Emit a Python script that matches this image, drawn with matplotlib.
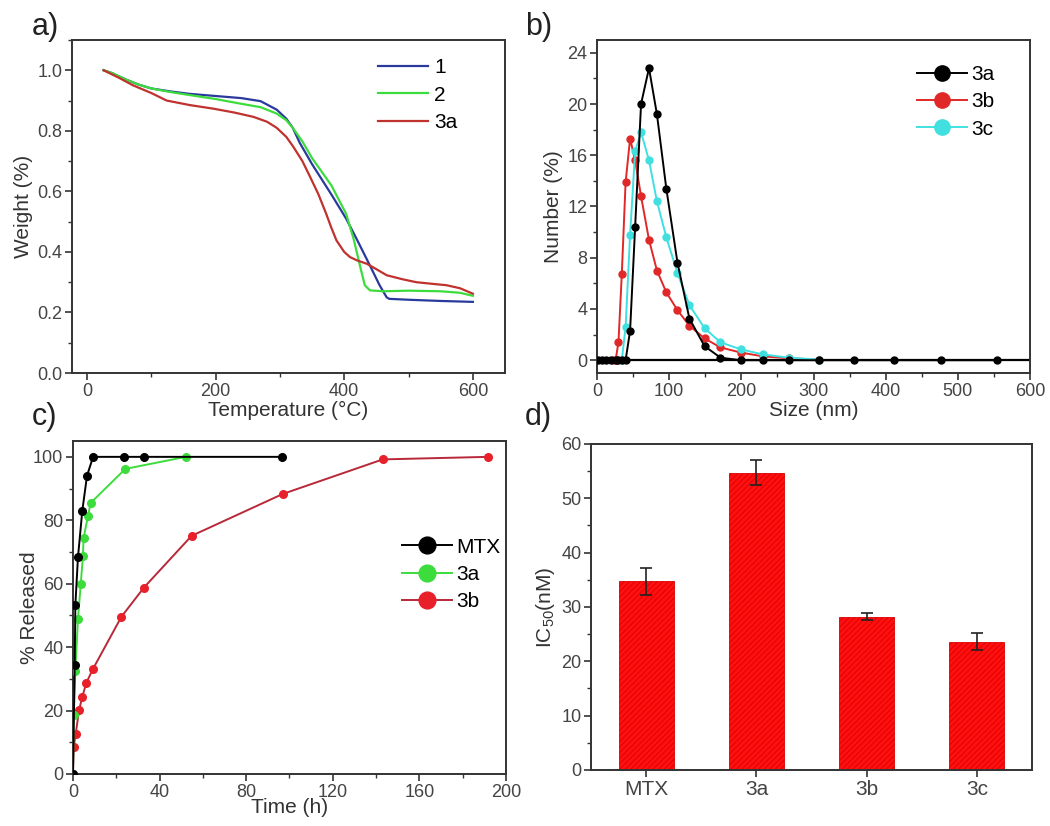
import numpy as np
import matplotlib
matplotlib.use("Agg")
import matplotlib.pyplot as plt
from matplotlib.ticker import MultipleLocator

plt.rcParams['font.family'] = ['Liberation Sans', 'DejaVu Sans']
plt.rcParams['mathtext.default'] = 'regular'
plt.rcParams['hatch.linewidth'] = 0.6

# ---- a) TGA ----
t1 = [26, 40, 60, 80, 100, 130, 160, 200, 240, 270, 295, 310, 320, 331, 350, 365,
      380, 403, 420, 440, 455, 466, 470, 500, 550, 600]
w1 = [1.0, 0.99, 0.97, 0.953, 0.94, 0.93, 0.922, 0.915, 0.908, 0.898, 0.87, 0.84,
      0.81, 0.76, 0.69, 0.64, 0.59, 0.51, 0.44, 0.355, 0.29, 0.25, 0.245, 0.242,
      0.238, 0.235]
t2 = [26, 40, 60, 80, 100, 130, 160, 200, 238, 270, 295, 310, 320, 335, 350, 365,
      380, 403, 415, 425, 432, 440, 460, 500, 550, 580, 600]
w2 = [1.0, 0.99, 0.97, 0.953, 0.94, 0.928, 0.918, 0.905, 0.89, 0.878, 0.857, 0.835,
      0.81, 0.765, 0.71, 0.665, 0.62, 0.526, 0.44, 0.35, 0.29, 0.273, 0.27, 0.272,
      0.27, 0.265, 0.255]
t3 = [26, 50, 72, 100, 124, 160, 197, 230, 259, 280, 295, 310, 321, 335, 347, 360,
      372, 380, 388, 400, 409, 420, 435, 450, 466, 490, 512, 535, 559, 580, 600]
w3 = [1.0, 0.975, 0.95, 0.925, 0.90, 0.885, 0.873, 0.86, 0.846, 0.83, 0.81, 0.78,
      0.747, 0.70, 0.648, 0.59, 0.526, 0.48, 0.438, 0.40, 0.383, 0.372, 0.361,
      0.343, 0.323, 0.31, 0.30, 0.295, 0.29, 0.28, 0.262]

# ---- b) size distribution ----
size_a = [1, 7, 13, 19, 25.7, 29.7, 34.3, 39.6, 45.8, 52.8, 61, 72, 83, 96, 111.5,
          128, 149, 171, 199, 230, 266, 307, 356, 412, 477, 554]
num_a = [0, 0, 0, 0, 0, 0, 0, 0, 2.3, 10.4, 20.0, 22.8, 19.2, 13.4, 7.6, 3.25,
         1.1, 0.2, 0, 0, 0, 0, 0, 0, 0, 0]
size_b = [22.3, 25.7, 29.7, 34.3, 39.6, 45.8, 52.8, 61, 72, 83, 96, 111.5, 128,
          149, 171, 199, 230, 266, 307]
num_b = [0, 0, 1.4, 6.7, 13.9, 17.3, 15.6, 12.8, 9.4, 7.0, 5.3, 3.9, 2.7, 1.7,
         1.0, 0.6, 0.3, 0.15, 0.05]
size_c = [34.3, 39.6, 45.8, 52.8, 61, 72, 83, 96, 111.5, 128, 149, 171, 199, 230,
          266, 307]
num_c = [0, 2.6, 9.8, 16.3, 17.8, 15.6, 12.4, 9.6, 6.8, 4.3, 2.5, 1.4, 0.85,
         0.45, 0.2, 0.05]

# ---- c) release ----
time_mtx = [0, 0.8, 1.1, 2.3, 4.3, 6.5, 9.3, 23.6, 32.7, 96.4]
rel_mtx = [0, 34.3, 53.3, 68.3, 83, 94.1, 100, 100, 100, 100]
time_3a = [0, 0.3, 1.1, 2.3, 3.6, 4.6, 4.9, 6.9, 8.2, 24.2, 52.1]
rel_3a = [0, 18.5, 32.6, 48.8, 60, 68.8, 74.4, 81.2, 85.5, 96.2, 100]
time_3b = [0, 0.3, 1.25, 2.8, 4.3, 6.2, 9.3, 22.4, 32.8, 54.8, 96.9, 143.1, 191.7]
rel_3b = [0, 8.5, 12.5, 20.1, 24.3, 28.8, 33.2, 49.6, 58.8, 75.1, 88.3, 99.2, 100]

# ---- d) IC50 ----
compounds = ['MTX', '3a', '3b', '3c']
ic50 = [34.7, 54.7, 28.2, 23.6]
ic50_err = [2.55, 2.3, 0.65, 1.6]

fig = plt.figure(figsize=(10.5, 8.26), dpi=100)
axa = fig.add_axes([0.0686, 0.5484, 0.4124, 0.4032])
axb = fig.add_axes([0.5686, 0.5484, 0.4124, 0.4032])
axc = fig.add_axes([0.0695, 0.0630, 0.4124, 0.4031])
axd = fig.add_axes([0.5629, 0.0678, 0.4200, 0.3947])

spine_col = '#333333'
lab_col = '#333333'
for ax in [axa, axb, axc, axd]:
    for s in ax.spines.values():
        s.set_color(spine_col)
        s.set_linewidth(1.4)
    ax.tick_params(which='both', direction='out', top=False, right=False,
                   colors=spine_col, labelcolor='#444444', labelsize=13)
    ax.tick_params(which='major', length=5, width=1.2, pad=2)
    ax.tick_params(which='minor', length=3, width=1.0)

leg_kw = dict(frameon=False, fontsize=15, handlelength=2.4, labelspacing=0.4,
              borderpad=0, borderaxespad=0)

# a)
axa.plot(t1, w1, color='#2a3a9c', lw=1.6, label='1')
axa.plot(t2, w2, color='#3ddc3d', lw=1.6, label='2')
axa.plot(t3, w3, color='#c0322e', lw=1.6, label='3a')
axa.set_xlim(-23, 650)
axa.set_ylim(0, 1.1)
axa.xaxis.set_major_locator(MultipleLocator(200))
axa.xaxis.set_minor_locator(MultipleLocator(100))
axa.yaxis.set_major_locator(MultipleLocator(0.2))
axa.yaxis.set_minor_locator(MultipleLocator(0.1))
axa.set_xlabel('Temperature (°C)', fontsize=15, color=lab_col, labelpad=1)
axa.set_ylabel('Weight (%)', fontsize=15, color=lab_col, labelpad=3)
axa.legend(loc='upper left', bbox_to_anchor=(0.707, 0.945), handletextpad=0.3,
           **leg_kw)

# b)
axb.axhline(0, color='black', lw=1.6, zorder=1)
axb.plot(size_b, num_b, '-o', color='#e02828', lw=1.4, ms=5, label='3b', zorder=2)
axb.plot(size_c, num_c, '-o', color='#40e0e0', lw=1.4, ms=5, label='3c', zorder=3)
axb.plot(size_a, num_a, '-o', color='black', lw=1.4, ms=5, label='3a', zorder=4)
axb.set_xlim(0, 600)
axb.set_ylim(-1, 25)
axb.xaxis.set_major_locator(MultipleLocator(100))
axb.xaxis.set_minor_locator(MultipleLocator(50))
axb.yaxis.set_major_locator(MultipleLocator(4))
axb.yaxis.set_minor_locator(MultipleLocator(2))
axb.set_xlabel('Size (nm)', fontsize=15, color=lab_col, labelpad=1)
axb.set_ylabel('Number (%)', fontsize=15, color=lab_col, labelpad=3)
h, l = axb.get_legend_handles_labels()
order = [2, 0, 1]
axb.legend([h[i] for i in order], [l[i] for i in order], loc='upper left',
           bbox_to_anchor=(0.74, 0.925), handletextpad=0.2, markerscale=2.2,
           **leg_kw)

# c)
axc.plot(time_mtx, rel_mtx, '-o', color='black', lw=1.4, ms=5.5, label='MTX', zorder=4)
axc.plot(time_3a, rel_3a, '-o', color='#3ddc3d', lw=1.4, ms=5.5, label='3a', zorder=3)
axc.plot(time_3b, rel_3b, '-o', color='#b82838', mfc='#e8202a', mec='#e8202a',
         lw=1.4, ms=5.5, label='3b', zorder=2)
axc.set_xlim(0, 200)
axc.set_ylim(0, 105)
axc.xaxis.set_major_locator(MultipleLocator(40))
axc.xaxis.set_minor_locator(MultipleLocator(20))
axc.yaxis.set_major_locator(MultipleLocator(20))
axc.yaxis.set_minor_locator(MultipleLocator(10))
axc.set_xlabel('Time (h)', fontsize=15, color=lab_col, labelpad=-2)
axc.set_ylabel('% Released', fontsize=15, color=lab_col, labelpad=-4)
axc.legend(loc='upper left', bbox_to_anchor=(0.76, 0.71), handletextpad=0.2,
           markerscale=2.2, **leg_kw)

# d)
xpos = np.arange(len(compounds))
axd.bar(xpos, ic50, width=0.5, color='#ff1010', edgecolor='#d80000',
        hatch='//////', lw=0.6)
axd.errorbar(xpos, ic50, yerr=ic50_err, fmt='none', ecolor='#222222',
             elinewidth=1.2, capsize=4, capthick=1.2)
axd.set_xlim(-0.5, 3.5)
axd.set_ylim(0, 60)
axd.set_xticks(xpos)
axd.set_xticklabels(compounds, fontsize=15)
axd.yaxis.set_major_locator(MultipleLocator(10))
axd.yaxis.set_minor_locator(MultipleLocator(5))
axd.set_ylabel('IC$_{50}$(nM)', fontsize=15, color=lab_col, labelpad=3)

# panel letters
for txt, x, y in [('a)', 0.030, 0.958), ('b)', 0.500, 0.958),
                  ('c)', 0.030, 0.485), ('d)', 0.500, 0.485)]:
    fig.text(x, y, txt, fontsize=22, color='#222222')

fig.savefig('out.png', dpi=100)
